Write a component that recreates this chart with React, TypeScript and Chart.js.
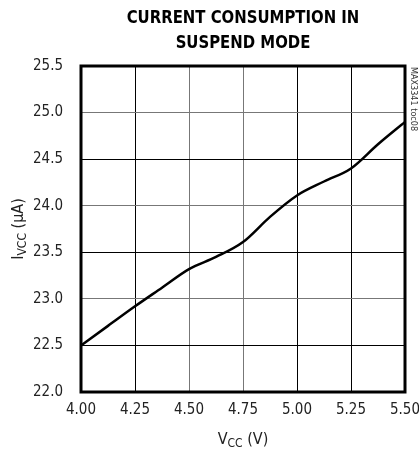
import React, { useEffect, useRef } from "react";
import { Chart, registerables } from "chart.js";

Chart.register(...registerables);

const vcc = [4.0, 4.125, 4.25, 4.375, 4.5, 4.625, 4.75, 4.875, 5.0, 5.125, 5.25, 5.375, 5.5];
const icc = [22.5, 22.71, 22.92, 23.12, 23.32, 23.45, 23.61, 23.88, 24.11, 24.26, 24.4, 24.66, 24.9];
const xTicks = [4.0, 4.25, 4.5, 4.75, 5.0, 5.25, 5.5];
const yTicks = [22.0, 22.5, 23.0, 23.5, 24.0, 24.5, 25.0, 25.5];
const titleLines = ["CURRENT CONSUMPTION IN", "SUSPEND MODE"];

const FONT = "'Liberation Sans Narrow', 'DejaVu Sans Condensed', sans-serif";

const xGridColors = ["#000", "#000", "#777", "#777", "#000", "#000", "#000"];
const yGridColors = ["#000", "#000", "#777", "#000", "#777", "#000", "#777", "#000"];

const decor = {
  id: "decor",
  afterDraw(chart: any) {
    const { ctx, chartArea } = chart;
    const { left, right, top, bottom } = chartArea;
    ctx.save();
    // frame
    ctx.strokeStyle = "#000";
    ctx.lineWidth = 3;
    ctx.strokeRect(left, top, right - left, bottom - top);
    // title (horizontally condensed)
    ctx.fillStyle = "#000";
    ctx.textAlign = "center";
    ctx.textBaseline = "alphabetic";
    ctx.font = `bold 18px ${FONT}`;
    const cx = (left + right) / 2;
    ctx.save();
    ctx.translate(cx, 0);
    ctx.scale(0.92, 1);
    ctx.fillText(titleLines[0], 0, 23);
    ctx.fillText(titleLines[1], 0, 48);
    ctx.restore();
    // x title: V_CC (V)
    ctx.fillStyle = "#222";
    const drawSub = (parts: [string, number, number][], x: number, y: number) => {
      let total = 0;
      for (const [t, size] of parts) {
        ctx.font = `${size}px ${FONT}`;
        total += ctx.measureText(t).width;
      }
      let px = x - total / 2;
      ctx.textAlign = "left";
      for (const [t, size, dy] of parts) {
        ctx.font = `${size}px ${FONT}`;
        ctx.fillText(t, px, y + dy);
        px += ctx.measureText(t).width;
      }
    };
    drawSub([["V", 16, 0], ["CC", 12, 3], [" (V)", 16, 0]], cx, 444);
    // y title
    ctx.save();
    ctx.translate(23, (top + bottom) / 2);
    ctx.rotate(-Math.PI / 2);
    drawSub([["I", 16, 0], ["VCC", 12, 3], [" (\u00B5A)", 16, 0]], 0, 0);
    ctx.restore();
    // side label
    ctx.save();
    ctx.translate(411, top + 1);
    ctx.rotate(Math.PI / 2);
    ctx.font = `9px ${FONT}`;
    ctx.fillStyle = "#333";
    ctx.textAlign = "left";
    ctx.fillText("MAX3341 toc08", 0, 0);
    ctx.restore();
    ctx.restore();
  },
};

export default function App() {
  const ref = useRef<HTMLCanvasElement | null>(null);
  useEffect(() => {
    if (!ref.current) return;
    const chart = new Chart(ref.current, {
      type: "scatter",
      data: {
        datasets: [
          {
            data: vcc.map((x, i) => ({ x, y: icc[i] })),
            showLine: true,
            borderColor: "#000",
            borderWidth: 2.5,
            pointRadius: 0,
            tension: 0.4,
            cubicInterpolationMode: "monotone",
          },
        ],
      },
      options: {
        animation: false,
        responsive: false,
        maintainAspectRatio: false,
        layout: { padding: { top: 66, right: 14, left: 0, bottom: 0 } },
        plugins: { legend: { display: false }, tooltip: { enabled: false }, title: { display: false } },
        scales: {
          x: {
            type: "linear",
            min: 4.0,
            max: 5.5,
            afterBuildTicks: (s: any) => {
              s.ticks = xTicks.map((v) => ({ value: v }));
            },
            afterFit: (s: any) => {
              s.height = 64;
              s.paddingLeft = 0;
              s.paddingRight = 0;
            },
            grid: {
              color: (c: any) => xGridColors[c.index] ?? "#000",
              lineWidth: 1,
              drawTicks: false,
            },
            border: { display: false },
            ticks: {
              padding: 9,
              color: "#222",
              font: { family: FONT, size: 15 },
              callback: (v: any) => Number(v).toFixed(2),
              maxRotation: 0,
              autoSkip: false,
            },
          },
          y: {
            type: "linear",
            min: 22.0,
            max: 25.5,
            afterBuildTicks: (s: any) => {
              s.ticks = yTicks.map((v) => ({ value: v }));
            },
            afterFit: (s: any) => {
              s.width = 81;
              s.paddingTop = 0;
              s.paddingBottom = 0;
            },
            grid: {
              color: (c: any) => yGridColors[c.index] ?? "#000",
              lineWidth: 1,
              drawTicks: false,
            },
            border: { display: false },
            ticks: {
              padding: 18,
              color: "#222",
              font: { family: FONT, size: 15 },
              callback: (v: any) => Number(v).toFixed(1),
              autoSkip: false,
            },
          },
        },
      },
      plugins: [decor],
    } as any);
    return () => chart.destroy();
  }, []);
  return (
    <div style={{ position: "fixed", left: 0, top: 0, width: 419, height: 456, background: "#fff" }}>
      <canvas ref={ref} width={419} height={456} style={{ width: 419, height: 456 }} />
    </div>
  );
}
